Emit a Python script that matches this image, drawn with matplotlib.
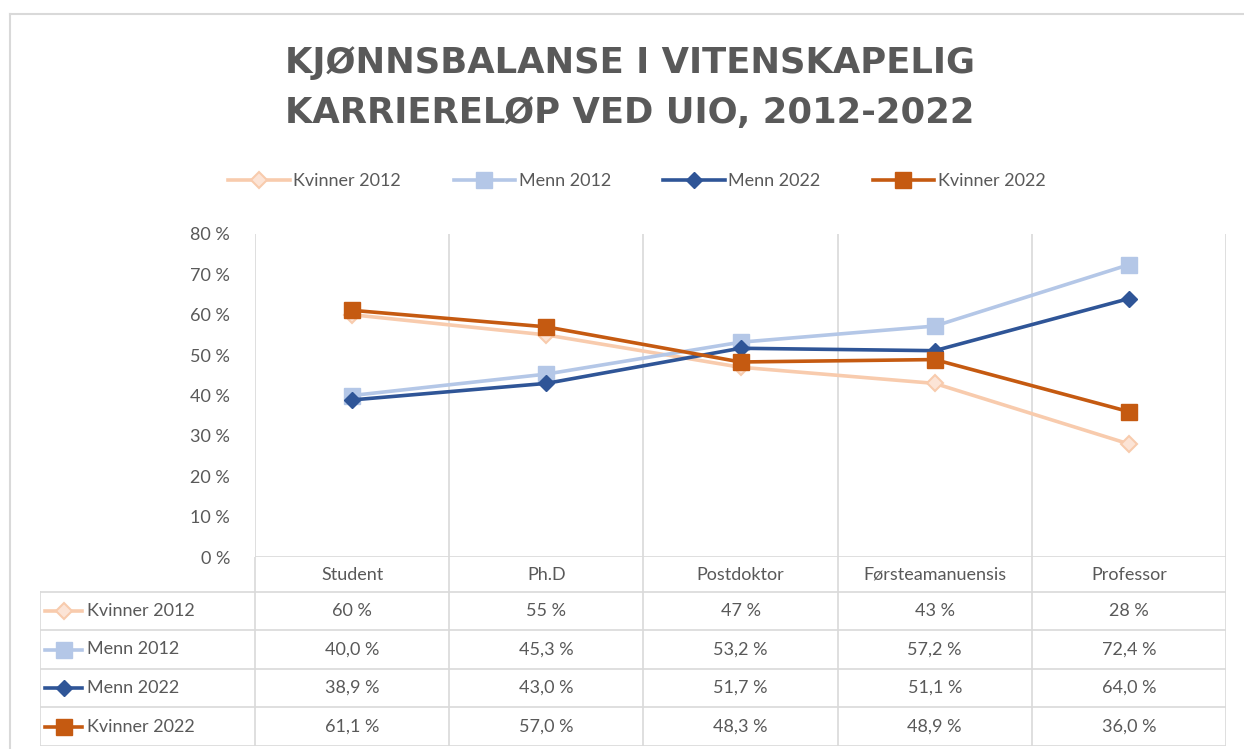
import matplotlib
matplotlib.use("Agg")
from matplotlib import pyplot as plt
import numpy as np

plt.rcParams['font.family'] = ['Lato', 'DejaVu Sans']

# data
categories = ['Student', 'Ph.D', 'Postdoktor', 'Førsteamanuensis', 'Professor']
series_names = ['Kvinner 2012', 'Menn 2012', 'Menn 2022', 'Kvinner 2022']
kvinner_2012 = [60, 55, 47, 43, 28]
menn_2012 = [40.0, 45.3, 53.2, 57.2, 72.4]
menn_2022 = [38.9, 43.0, 51.7, 51.1, 64.0]
kvinner_2022 = [61.1, 57.0, 48.3, 48.9, 36.0]
decimals = [0, 1, 1, 1]
yticks = [0, 10, 20, 30, 40, 50, 60, 70, 80]

series = [kvinner_2012, menn_2012, menn_2022, kvinner_2022]
styles = [
    dict(color='#F8CBAD', marker='D', mfc='#FCE4D6', mec='#F8CBAD', ms=8, mew=1.5),
    dict(color='#B4C7E7', marker='s', mfc='#B4C7E7', mec='#B4C7E7', ms=11),
    dict(color='#2F5597', marker='D', mfc='#2F5597', mec='#2F5597', ms=8),
    dict(color='#C55A11', marker='s', mfc='#C55A11', mec='#C55A11', ms=11),
]
grey = '#595959'
gridc = '#D9D9D9'

W, H = 1244, 749
fig = plt.figure(figsize=(W / 100, H / 100), dpi=100)

def px(x0, y0, x1, y1):
    return [x0 / W, 1 - y1 / H, (x1 - x0) / W, (y1 - y0) / H]

# outer frame
frame = fig.add_axes([0, 0, 1, 1])
frame.set_xlim(0, W)
frame.set_ylim(H, 0)
frame.axis('off')
frame.plot([10, W], [14, 14], color=gridc, lw=1.5)
frame.plot([10, 10], [14, H], color=gridc, lw=1.5)

# main plot
x_left, x_right, y_top, y_bot = 255, 1226, 234, 557
ax = fig.add_axes(px(x_left, y_top, x_right, y_bot))
x = np.arange(len(categories))
for vals, name, st in zip(series, series_names, styles):
    ax.plot(x, vals, label=name, lw=2.6, zorder=3, **st)

ax.set_xlim(-0.5, len(categories) - 0.5)
ax.set_ylim(0, 80)
ax.set_yticks(yticks)
ax.set_yticklabels([f'{v} %' for v in yticks], color=grey, fontsize=13)
ax.set_xticks([])
for b in np.arange(-0.5, len(categories), 1.0):
    ax.axvline(b, color=gridc, lw=1.2, zorder=1)
for s in ax.spines.values():
    s.set_visible(False)
ax.axhline(0, color=gridc, lw=1.2, zorder=1)
ax.tick_params(axis='y', length=0, pad=18)

# table below
tab_left, tab_bot = 40, 746
unit = (x_right - x_left) / len(categories)
tab = fig.add_axes(px(tab_left, y_bot, x_right, tab_bot))
tab.set_xlim(-0.5 - (x_left - tab_left) / unit, len(categories) - 0.5)
tab.set_ylim(tab_bot, y_bot)
tab.axis('off')
row_lines = [592, 630, 669, 707, 746]
for b in np.arange(-0.5, len(categories), 1.0):
    tab.plot([b, b], [y_bot, tab_bot], color=gridc, lw=1.2)
lx = -0.5 - (x_left - tab_left) / unit
for yl in row_lines:
    tab.plot([lx, len(categories) - 0.5], [yl, yl], color=gridc, lw=1.2)
tab.plot([lx, lx], [row_lines[0], tab_bot], color=gridc, lw=1.2)

for i, c in enumerate(categories):
    tab.text(i, (y_bot + row_lines[0]) / 2, c, ha='center', va='center',
             color=grey, fontsize=13)

for r, (vals, name, st, d) in enumerate(zip(series, series_names, styles, decimals)):
    yc = (row_lines[r] + row_lines[r + 1]) / 2
    k0 = lx + 5 / unit
    k1 = lx + 42 / unit
    tab.plot([k0, k1], [yc, yc], lw=2.6, color=st['color'])
    tab.plot([(k0 + k1) / 2], [yc], **{k: v for k, v in st.items() if k != 'color'},
             color=st['color'])
    tab.text(lx + 47 / unit, yc, name, ha='left', va='center', color=grey, fontsize=13)
    for i, v in enumerate(vals):
        s = f'{v:.{d}f} %'.replace('.', ',')
        tab.text(i, yc, s, ha='center', va='center', color=grey, fontsize=13)

# legend
handles, labels = ax.get_legend_handles_labels()
fig.legend(handles, labels, loc='center', bbox_to_anchor=(637 / W, 1 - 181 / H),
           ncol=4, frameon=False, fontsize=13, labelcolor=grey,
           handlelength=3.4, columnspacing=2.9, handletextpad=0.2)

# title
for txt, yy in [('KJØNNSBALANSE I VITENSKAPELIG', 63), ('KARRIERELØP VED UIO, 2012-2022', 113)]:
    fig.text(630 / W, 1 - yy / H, txt, ha='center', va='center', fontsize=25.5,
             fontweight='bold', color=grey, family=['DejaVu Sans'])

fig.savefig('out.png', dpi=100)
